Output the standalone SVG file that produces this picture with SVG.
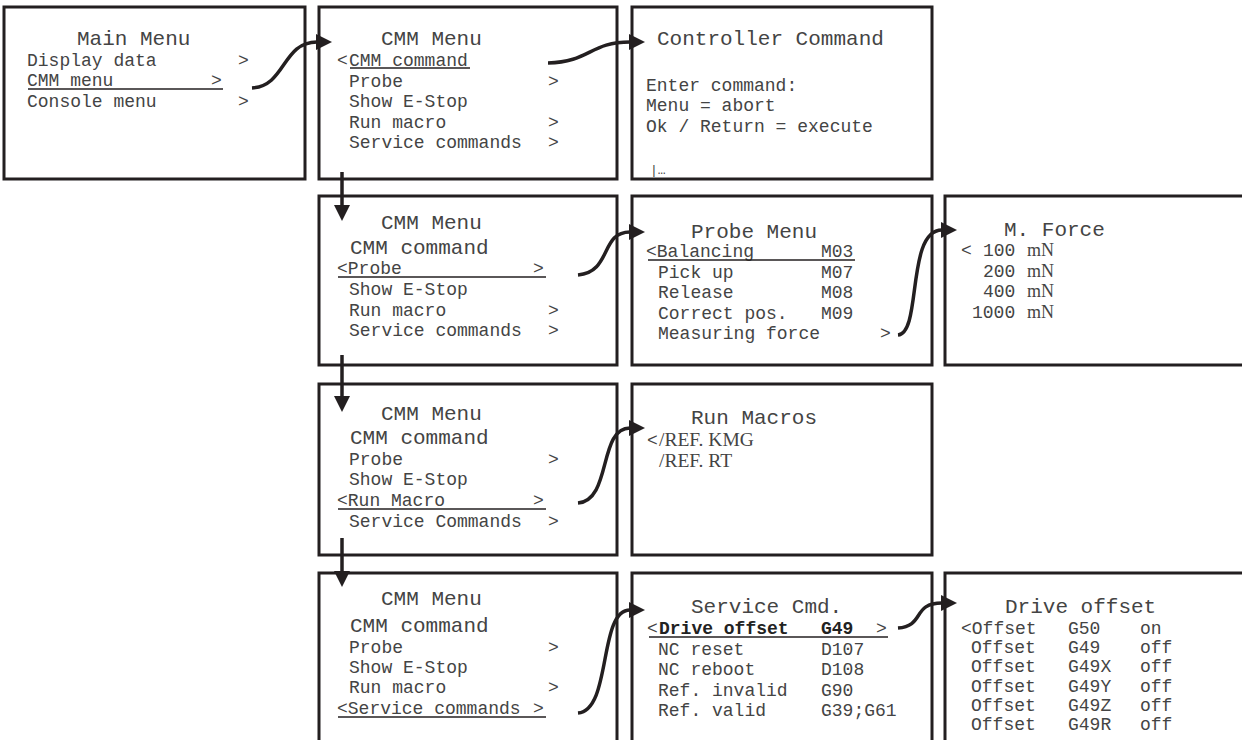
<svg xmlns="http://www.w3.org/2000/svg" width="1242" height="740" viewBox="0 0 1242 740">
<style>
.box{fill:#fff;stroke:#231f20;stroke-width:3}
.t{font-family:"Liberation Mono","Courier New",monospace;font-size:21px;fill:#444}
.i{font-family:"Liberation Mono","Courier New",monospace;font-size:18px;fill:#444}
.b{font-weight:bold;fill:#222}
.s{font-family:"Liberation Serif","Times New Roman",serif}
.u{stroke:#231f20;stroke-width:1.5}
.c{fill:none;stroke:#231f20;stroke-width:3.5;marker-end:url(#ah)}
</style>
<defs>
<marker id="ah" markerUnits="userSpaceOnUse" viewBox="0 0 16 16" markerWidth="16" markerHeight="16" refX="1" refY="8" orient="auto">
<path d="M0,0 L16,8 L0,16 z" fill="#231f20"/>
</marker>
</defs>
<rect width="1242" height="740" fill="#fff"/>

<g id="main-menu">
<rect class="box" x="4" y="7" width="301" height="172"/>
<text class="t" x="77" y="45">Main Menu</text>
<text class="i" x="27" y="66">Display data</text><text class="i" x="238" y="66">&gt;</text>
<text class="i" x="27" y="86">CMM menu</text><text class="i" x="211" y="86">&gt;</text>
<line class="u" x1="28" y1="89" x2="223" y2="89"/>
<text class="i" x="27" y="107">Console menu</text><text class="i" x="238" y="107">&gt;</text>
</g>

<g id="cmm-menu-1">
<rect class="box" x="319" y="7" width="298" height="172"/>
<text class="t" x="381" y="45">CMM Menu</text>
<text class="i" x="337" y="66">&lt;</text><text class="i" x="349" y="66">CMM command</text>
<line class="u" x1="350" y1="68" x2="470" y2="68"/>
<text class="i" x="349" y="87">Probe</text><text class="i" x="548" y="87">&gt;</text>
<text class="i" x="349" y="107">Show E-Stop</text>
<text class="i" x="349" y="128">Run macro</text><text class="i" x="548" y="128">&gt;</text>
<text class="i" x="349" y="148">Service commands</text><text class="i" x="548" y="148">&gt;</text>
</g>

<g id="controller-command">
<rect class="box" x="632" y="7" width="300" height="172"/>
<text class="t" x="657" y="45">Controller Command</text>
<text class="i" x="646" y="91">Enter command:</text>
<text class="i" x="646" y="111">Menu = abort</text>
<text class="i" x="646" y="132">Ok / Return = execute</text>
<text class="i" x="650" y="174" style="font-size:13px">|…</text>
</g>

<g id="cmm-menu-2">
<rect class="box" x="319" y="196" width="298" height="169"/>
<text class="t" x="381" y="229">CMM Menu</text>
<text class="t" x="350" y="254">CMM command</text>
<text class="i" x="337" y="274">&lt;Probe</text><text class="i" x="533" y="274">&gt;</text>
<line class="u" x1="338" y1="277" x2="546" y2="277"/>
<text class="i" x="349" y="295">Show E-Stop</text>
<text class="i" x="349" y="316">Run macro</text><text class="i" x="548" y="316">&gt;</text>
<text class="i" x="349" y="336">Service commands</text><text class="i" x="548" y="336">&gt;</text>
</g>

<g id="probe-menu">
<rect class="box" x="632" y="196" width="300" height="169"/>
<text class="t" x="691" y="238">Probe Menu</text>
<text class="i" x="646" y="257">&lt;Balancing</text><text class="i" x="821" y="257">M03</text>
<line class="u" x1="648" y1="260" x2="855" y2="260"/>
<text class="i" x="658" y="278">Pick up</text><text class="i" x="821" y="278">M07</text>
<text class="i" x="658" y="298">Release</text><text class="i" x="821" y="298">M08</text>
<text class="i" x="658" y="319">Correct pos.</text><text class="i" x="821" y="319">M09</text>
<text class="i" x="658" y="339">Measuring force</text><text class="i" x="880" y="339">&gt;</text>
</g>

<g id="m-force">
<rect class="box" x="945" y="196" width="305" height="169"/>
<text class="t" x="1004" y="236">M. Force</text>
<text class="i" x="961" y="256">&lt;</text><text class="i" x="983" y="256">100</text><text class="i s" x="1027" y="256">mN</text>
<text class="i" x="983" y="277">200</text><text class="i s" x="1027" y="277">mN</text>
<text class="i" x="983" y="297">400</text><text class="i s" x="1027" y="297">mN</text>
<text class="i" x="972" y="318">1000</text><text class="i s" x="1027" y="318">mN</text>
</g>

<g id="cmm-menu-3">
<rect class="box" x="319" y="384" width="298" height="171"/>
<text class="t" x="381" y="420">CMM Menu</text>
<text class="t" x="350" y="444">CMM command</text>
<text class="i" x="349" y="465">Probe</text><text class="i" x="548" y="465">&gt;</text>
<text class="i" x="349" y="485">Show E-Stop</text>
<text class="i" x="337" y="506">&lt;Run Macro</text><text class="i" x="533" y="506">&gt;</text>
<line class="u" x1="338" y1="509" x2="546" y2="509"/>
<text class="i" x="349" y="527">Service Commands</text><text class="i" x="548" y="527">&gt;</text>
</g>

<g id="run-macros">
<rect class="box" x="632" y="384" width="300" height="171"/>
<text class="t" x="691" y="424">Run Macros</text>
<text class="i" x="647" y="446">&lt;</text><text class="i s" x="659" y="446" style="font-size:19.5px">/REF. KMG</text>
<text class="i s" x="659" y="467" style="font-size:19.5px">/REF. RT</text>
</g>

<g id="cmm-menu-4">
<rect class="box" x="319" y="573" width="298" height="180"/>
<text class="t" x="381" y="605">CMM Menu</text>
<text class="t" x="350" y="632">CMM command</text>
<text class="i" x="349" y="653">Probe</text><text class="i" x="548" y="653">&gt;</text>
<text class="i" x="349" y="673">Show E-Stop</text>
<text class="i" x="349" y="693">Run macro</text><text class="i" x="548" y="693">&gt;</text>
<text class="i" x="337" y="714">&lt;Service commands</text><text class="i" x="533" y="714">&gt;</text>
<line class="u" x1="338" y1="717" x2="546" y2="717"/>
</g>

<g id="service-cmd">
<rect class="box" x="632" y="573" width="300" height="180"/>
<text class="t" x="691" y="613">Service Cmd.</text>
<text class="i" x="647" y="634">&lt;</text><text class="i b" x="659" y="634">Drive offset</text><text class="i b" x="821" y="634">G49</text><text class="i" x="876" y="634">&gt;</text>
<line class="u" x1="649" y1="637" x2="888" y2="637"/>
<text class="i" x="658" y="655">NC reset</text><text class="i" x="821" y="655">D107</text>
<text class="i" x="658" y="675">NC reboot</text><text class="i" x="821" y="675">D108</text>
<text class="i" x="658" y="696">Ref. invalid</text><text class="i" x="821" y="696">G90</text>
<text class="i" x="658" y="716">Ref. valid</text><text class="i" x="821" y="716">G39;G61</text>
</g>

<g id="drive-offset">
<rect class="box" x="945" y="573" width="305" height="180"/>
<text class="t" x="1005" y="613">Drive offset</text>
<text class="i" x="961" y="634">&lt;Offset</text><text class="i" x="1068" y="634">G50</text><text class="i" x="1140" y="634">on</text>
<text class="i" x="971" y="653">Offset</text><text class="i" x="1068" y="653">G49</text><text class="i" x="1140" y="653">off</text>
<text class="i" x="971" y="672">Offset</text><text class="i" x="1068" y="672">G49X</text><text class="i" x="1140" y="672">off</text>
<text class="i" x="971" y="692">Offset</text><text class="i" x="1068" y="692">G49Y</text><text class="i" x="1140" y="692">off</text>
<text class="i" x="971" y="711">Offset</text><text class="i" x="1068" y="711">G49Z</text><text class="i" x="1140" y="711">off</text>
<text class="i" x="971" y="730">Offset</text><text class="i" x="1068" y="730">G49R</text><text class="i" x="1140" y="730">off</text>
</g>

<g id="connectors">
<path class="c" d="M252,88 C286,86 282,42 317,42"/>
<path class="c" d="M548,63 C590,62 590,42 630,42"/>
<path class="c" d="M578,275 C612,272 600,232 630,232"/>
<path class="c" d="M898,335 C922,333 906,230 942,230"/>
<path class="c" d="M578,503 C612,500 598,428 630,428"/>
<path class="c" d="M578,713 C612,710 598,610 630,610"/>
<path class="c" d="M898,628 C925,626 912,603 942,603"/>
<path class="c" d="M342,172 L342,206"/>
<path class="c" d="M342,355 L342,397"/>
<path class="c" d="M342,538 L342,572"/>
</g>
</svg>
